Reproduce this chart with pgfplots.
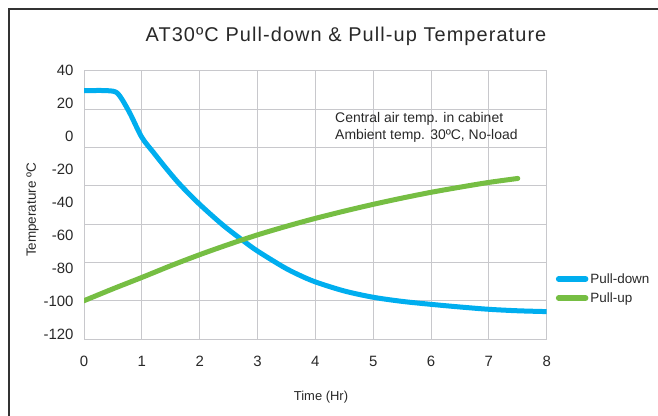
\documentclass[border=0pt]{standalone}
\usepackage{fontspec}
\setmainfont{Liberation Sans}
\newfontfamily\titlefont[LetterSpace=5.5]{Liberation Sans}
\usepackage{pgfplots}
\pgfplotsset{compat=1.18}
\definecolor{pdblue}{RGB}{0,174,239}
\definecolor{pugreen}{RGB}{118,190,67}
\definecolor{gridc}{RGB}{200,200,204}
\definecolor{txt}{RGB}{40,40,40}
\pgfplotstableread{
x y
0 27.9
0.3 28
0.5 27.6
0.58 26.3
0.66 22.5
0.8 13.8
1.0 -0.4
1.2 -9.5
1.43 -19.6
1.66 -29
2.0 -41
2.4 -53.5
2.75 -63
3.0 -69.3
3.44 -78.8
3.7 -83.5
4.0 -88
4.5 -93.5
5.0 -97.3
5.5 -99.8
6.0 -101.6
6.5 -103.2
7.0 -104.6
7.5 -105.5
8.0 -106
}\pulldown
\pgfplotstableread{
x y
0 -99.4
0.5 -92.2
1 -85.3
1.5 -78.2
2 -71.5
2.5 -65.3
3 -59.5
3.5 -54.3
4 -49.5
4.5 -45.1
5 -41
5.5 -37.2
6 -33.7
6.5 -30.6
7 -27.7
7.5 -25.3
}\pullup
\begin{document}
\begin{tikzpicture}
\useasboundingbox (0,0) rectangle (658bp,416bp);
\draw[line width=2bp, black!80] (9bp,-5bp) -- (9bp,406.7bp) -- (665bp,406.7bp);
\begin{axis}[
  at={(84bp,77bp)}, anchor=south west, scale only axis,
  width=462.7bp, height=268.3bp,
  xmin=0, xmax=8, ymin=-122.6, ymax=40,
  axis line style={draw=gridc, line width=0.9bp},
  xtick={0,1,...,8}, ytick={40,20,0,-20,-40,-60,-80,-100,-120},
  major tick length=0pt,
  xmajorgrids,
  grid style={gridc, line width=0.9bp},
  extra y ticks={16.77,-6.46,-29.69,-52.91,-76.14,-99.37},
  extra y tick labels={,,,,,},
  extra y tick style={grid=major},
  /pgf/number format/assume math mode=true,
  ticklabel style={font=\fontsize{15}{18}\selectfont, text=txt},
  xticklabel style={yshift=-14bp},
  yticklabel style={xshift=-7bp},
  legend style={at={(rel axis cs:1,0)}, anchor=west, xshift=9bp, yshift=50.5bp,
    draw=none, fill=none, inner sep=0pt, row sep=4bp,
    font=\fontsize{13.5}{16}\selectfont, text=txt},
  legend cell align=left,
  legend image code/.code={\draw[#1, line width=5.5bp, line cap=round] (0bp,0bp) -- (27bp,0bp);},
]
\addplot[pdblue, line width=5bp, line cap=round, line join=round, smooth, tension=0.5] table {\pulldown};
\addlegendentry{Pull-down}
\addplot[pugreen, line width=5bp, line cap=round, line join=round, smooth] table {\pullup};
\addlegendentry{Pull-up}
\end{axis}
\node[text=txt, font=\titlefont\fontsize{20}{24}\selectfont] at (346bp,380bp) {AT30ºC Pull-down \& Pull-up Temperature};
\node[text=txt, font=\fontsize{13}{16}\selectfont] at (321bp,19bp) {Time (Hr)};
\node[text=txt, font=\fontsize{13.5}{16}\selectfont, rotate=90] at (32.5bp,206bp) {Temperature ºC};
\node[text=txt, font=\fontsize{14}{16.7}\selectfont, anchor=west, align=left, inner sep=0pt] at (335bp,288.5bp) {Central air temp. in cabinet\\Ambient temp. 30ºC, No-load};
\end{tikzpicture}
\end{document}
